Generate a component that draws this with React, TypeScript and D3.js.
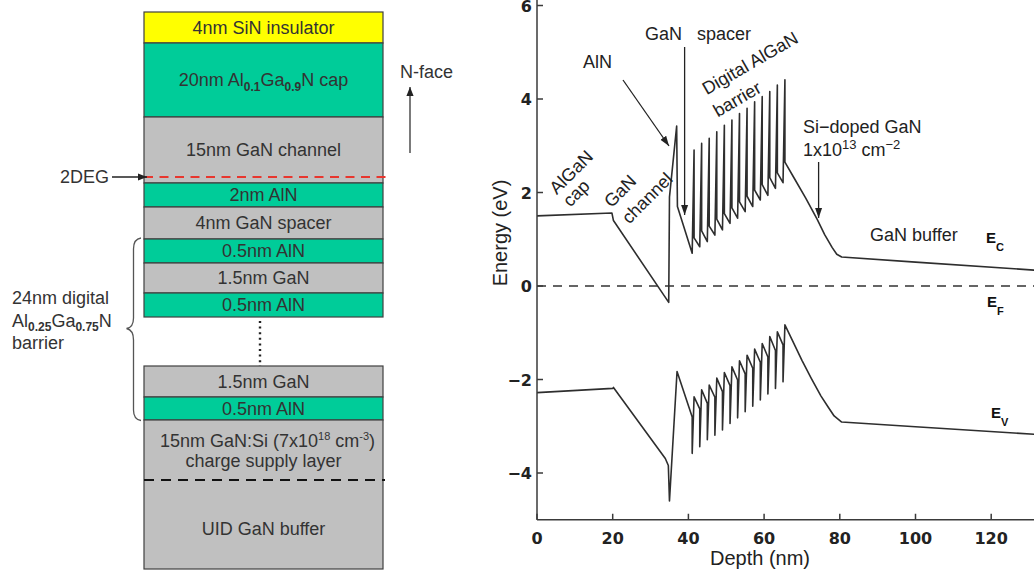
import React from "react";
import * as d3 from "d3";

// ---------- Left: layer stack ----------
const topStackLabels = [
  "4nm SiN insulator",
  "20nm Al_{0.1}Ga_{0.9}N cap",
  "15nm GaN channel",
  "2nm AlN",
  "4nm GaN spacer",
  "0.5nm AlN",
  "1.5nm GaN",
  "0.5nm AlN",
];
const topStackMaterial = ["SiN", "AlGaN", "GaN", "AlN", "GaN", "AlN", "GaN", "AlN"];
const bottomStackLabels = ["1.5nm GaN", "0.5nm AlN"];
const bottomStackMaterial = ["GaN", "AlN"];
const supplyLabelLines = ["15nm GaN:Si (7x10^{18} cm^{-3})", "charge supply layer"];
const bufferLabel = "UID GaN buffer";
const braceLabelLines = ["24nm digital", "Al_{0.25}Ga_{0.75}N", "barrier"];

// ---------- Right: band diagram (depth in nm, energy in eV) ----------
const xTicks = [0, 20, 40, 60, 80, 100, 120];
const yTicks = [-4, -2, 0, 2, 4, 6];

const ecHeadDepth = [0, 19.8, 20.2, 34.8, 35.0, 36.9, 37.1];
const ecHeadEnergy = [1.5, 1.56, 1.4, -0.35, 1.9, 3.42, 1.7];
const alnStart = [41, 43, 45, 47, 49, 51, 53, 55, 57, 59, 61, 63, 65];
const alnThickness = 0.5;
const ecTrough = [0.7, 0.84, 0.95, 1.09, 1.2, 1.34, 1.45, 1.59, 1.7, 1.84, 1.94, 2.09, 2.21];
const ecPeak = [2.91, 3.05, 3.16, 3.3, 3.44, 3.55, 3.69, 3.8, 3.94, 4.05, 4.16, 4.3, 4.41];
const ecPost = [1.03, 1.18, 1.28, 1.43, 1.55, 1.67, 1.8, 1.92, 2.05, 2.17, 2.32, 2.42];
const ecTailDepth = [65.5, 68, 71, 74, 76, 78, 79.2, 80.5, 100, 135];
const ecTailEnergy = [2.65, 2.3, 1.88, 1.43, 1.1, 0.82, 0.68, 0.62, 0.51, 0.32];

const evHeadDepth = [0, 20, 20.2, 33.9, 34.7, 35.0, 37.0];
const evHeadEnergy = [-2.28, -2.19, -2.17, -3.69, -3.84, -4.6, -1.83];
const evGanEnd = [-2.8, -2.63, -2.51, -2.38, -2.26, -2.13, -2.01, -1.88, -1.76, -1.63, -1.52, -1.38, -1.26];
const evBottom = [-3.58, -3.44, -3.29, -3.19, -3.08, -2.94, -2.82, -2.69, -2.57, -2.44, -2.31, -2.19, -2.05];
const evTop = [-2.37, -2.22, -2.12, -1.97, -1.85, -1.73, -1.6, -1.48, -1.35, -1.23, -1.08, -0.98];
const evTailDepth = [65.5, 67.5, 70, 72.5, 75, 77, 78.5, 80.5, 100, 135];
const evTailEnergy = [-0.83, -1.17, -1.59, -1.98, -2.35, -2.6, -2.78, -2.91, -3.01, -3.19];

const fermiLevel = 0;

// ---------- helpers ----------
const W = 1034;
const H = 571;
const SANS = "'Liberation Sans', Arial, Helvetica, sans-serif";
const materialColor: Record<string, string> = {
  SiN: "#ffff00",
  AlGaN: "#00cc99",
  AlN: "#00cc99",
  GaN: "#c0c0c0",
};

function rich(s: string, small: number, subBold = false) {
  const re = /([_^])\{([^}]*)\}/g;
  const toks: { t: string; k: string }[] = [];
  let last = 0;
  let m: RegExpExecArray | null;
  while ((m = re.exec(s))) {
    if (m.index > last) toks.push({ t: s.slice(last, m.index), k: "n" });
    toks.push({ t: m[2], k: m[1] === "_" ? "sub" : "sup" });
    last = m.index + m[0].length;
  }
  if (last < s.length) toks.push({ t: s.slice(last), k: "n" });
  let cur = 0;
  return toks.map((tok, i) => {
    const target = tok.k === "sub" ? 4.5 : tok.k === "sup" ? -7 : 0;
    const dy = target - cur;
    cur = target;
    return (
      <tspan
        key={i}
        dy={dy}
        fontSize={tok.k === "n" ? undefined : small}
        fontWeight={tok.k === "sub" && subBold ? "bold" : undefined}
      >
        {tok.t}
      </tspan>
    );
  });
}

export default function App() {
  // ----- left layout -----
  const boxX0 = 144;
  const boxX1 = 383;
  const boxCx = (boxX0 + boxX1) / 2;
  const topEdges = [12, 43, 117, 183, 207, 239, 263, 293, 317];
  const bottomEdges = [366, 397, 420];
  const supplyTop = 420;
  const dashY = 480;
  const boxBottom = 569;

  // ----- right scales -----
  const x = d3.scaleLinear().domain([0, 135]).range([537, 537 + 135 * 3.785]);
  const y = d3.scaleLinear().domain([-5, 6.1]).range([519.75, 0.83]);

  const ecPts: [number, number][] = [];
  ecHeadDepth.forEach((d, i) => ecPts.push([d, ecHeadEnergy[i]]));
  alnStart.forEach((s, k) => {
    ecPts.push([s, ecTrough[k]]);
    ecPts.push([s + alnThickness, ecPeak[k]]);
    if (k < ecPost.length) ecPts.push([s + alnThickness, ecPost[k]]);
  });
  ecTailDepth.forEach((d, i) => ecPts.push([d, ecTailEnergy[i]]));

  const evPts: [number, number][] = [];
  evHeadDepth.forEach((d, i) => evPts.push([d, evHeadEnergy[i]]));
  alnStart.forEach((s, k) => {
    evPts.push([s, evGanEnd[k]]);
    evPts.push([s, evBottom[k]]);
    if (k < evTop.length) evPts.push([s + alnThickness, evTop[k]]);
  });
  evTailDepth.forEach((d, i) => evPts.push([d, evTailEnergy[i]]));

  const line = d3
    .line<[number, number]>()
    .x((d) => x(d[0]))
    .y((d) => y(d[1]));

  const fmt = d3.format("d");
  const axisColor = "#3a3a3a";
  const curveColor = "#2e2e2e";
  const plotX0 = x(0);
  const plotY0 = y(-5);

  return (
    <div style={{ position: "absolute", left: 0, top: 0 }}>
      <svg width={W} height={H} viewBox={`0 0 ${W} ${H}`} style={{ display: "block", background: "#fff" }}>
        <defs>
          <marker id="ah" viewBox="0 0 10 10" refX="10" refY="5" markerWidth="9" markerHeight="9" markerUnits="userSpaceOnUse" orient="auto">
            <path d="M0,1 L10,5 L0,9 z" fill="#222" />
          </marker>
          <marker id="ah2" viewBox="0 0 10 10" refX="10" refY="5" markerWidth="10" markerHeight="10" markerUnits="userSpaceOnUse" orient="auto">
            <path d="M0,1.5 L10,5 L0,8.5 z" fill="#222" />
          </marker>
          <clipPath id="plotclip">
            <rect x={plotX0} y={0} width={W - plotX0} height={plotY0} />
          </clipPath>
        </defs>

        {/* ===== Left stack ===== */}
        <g fontFamily={SANS} fontSize={18} fill="#333">
          {topStackLabels.map((lab, i) => {
            const y0 = topEdges[i];
            const y1 = topEdges[i + 1];
            return (
              <g key={"t" + i}>
                <rect x={boxX0} y={y0} width={boxX1 - boxX0} height={y1 - y0} fill={materialColor[topStackMaterial[i]]} stroke="#404040" strokeWidth={1.2} />
                <text x={boxCx} y={(y0 + y1) / 2 + 6.3} textAnchor="middle">
                  {rich(lab, 12, true)}
                </text>
              </g>
            );
          })}
          {bottomStackLabels.map((lab, i) => {
            const y0 = bottomEdges[i];
            const y1 = bottomEdges[i + 1];
            return (
              <g key={"b" + i}>
                <rect x={boxX0} y={y0} width={boxX1 - boxX0} height={y1 - y0} fill={materialColor[bottomStackMaterial[i]]} stroke="#404040" strokeWidth={1.2} />
                <text x={boxCx} y={(y0 + y1) / 2 + 6.3} textAnchor="middle">
                  {rich(lab, 12, true)}
                </text>
              </g>
            );
          })}
          <rect x={boxX0} y={supplyTop} width={boxX1 - boxX0} height={boxBottom - supplyTop} fill={materialColor.GaN} stroke="#404040" strokeWidth={1.2} />
          <line x1={boxX0} x2={boxX1 + 2} y1={dashY} y2={dashY} stroke="#111" strokeWidth={2.2} strokeDasharray="10,7" />
          <text x={boxCx + 4} y={446.5} textAnchor="middle">
            {rich(supplyLabelLines[0], 11)}
          </text>
          <text x={boxCx} y={466.5} textAnchor="middle">
            {supplyLabelLines[1]}
          </text>
          <text x={boxCx} y={535} textAnchor="middle">
            {bufferLabel}
          </text>

          {/* dotted continuation */}
          <line x1={260} x2={260} y1={321} y2={366} stroke="#222" strokeWidth={2.4} strokeDasharray="2,3.6" />

          {/* 2DEG */}
          <line x1={boxX0} x2={386} y1={177} y2={177} stroke="#e8362e" strokeWidth={2} strokeDasharray="9,6.5" />
          <text x={60} y={183}>2DEG</text>
          <line x1={112} x2={147} y1={177} y2={177} stroke="#222" strokeWidth={1.3} markerEnd="url(#ah)" />

          {/* N-face */}
          <text x={400} y={78}>N-face</text>
          <line x1={410} x2={410} y1={153} y2={87} stroke="#222" strokeWidth={1.2} markerEnd="url(#ah)" />

          {/* brace */}
          <path d="M141,238 Q133.5,239 133.5,249 L133.5,318 Q133.5,327.5 126.5,328.5 Q133.5,330 133.5,340 L133.5,410 Q133.5,419.5 141,420.5" fill="none" stroke="#555" strokeWidth={1.3} />
          <text x={12} y={304}>{braceLabelLines[0]}</text>
          <text x={12} y={326.5}>{rich(braceLabelLines[1], 12, true)}</text>
          <text x={12} y={348.5}>{braceLabelLines[2]}</text>
        </g>

        {/* ===== Right band diagram ===== */}
        <g clipPath="url(#plotclip)">
          <line x1={x(0)} x2={x(135)} y1={y(fermiLevel)} y2={y(fermiLevel)} stroke="#333" strokeWidth={1.3} strokeDasharray="9,7" />
          <path d={line(ecPts) || ""} fill="none" stroke={curveColor} strokeWidth={1.6} strokeLinejoin="round" />
          <path d={line(evPts) || ""} fill="none" stroke={curveColor} strokeWidth={1.6} strokeLinejoin="round" />
        </g>

        {/* axes */}
        <g stroke={axisColor} strokeWidth={1.5}>
          <line x1={x(0)} x2={x(0)} y1={0} y2={y(-5)} />
          <line x1={x(0)} x2={W} y1={y(-5)} y2={y(-5)} />
          {xTicks.map((t) => (
            <line key={"xt" + t} x1={x(t)} x2={x(t)} y1={y(-5)} y2={y(-5) - 6} />
          ))}
          {yTicks.map((t) => (
            <line key={"yt" + t} x1={x(0)} x2={x(0) + 6} y1={y(t)} y2={y(t)} />
          ))}
        </g>
        <g fontFamily="'DejaVu Sans', Verdana, sans-serif" fontWeight="bold" fontSize={16} fill="#222">
          {xTicks.map((t) => (
            <text key={"xl" + t} x={x(t)} y={543.5} textAnchor="middle">
              {fmt(t)}
            </text>
          ))}
          {yTicks.map((t) => (
            <text key={"yl" + t} x={x(0) - 5} y={Math.max(y(t) + 6, 12)} textAnchor="end">
              {fmt(t)}
            </text>
          ))}
        </g>
        <g fontFamily={SANS} fontSize={20} fill="#222">
          <text x={760} y={565} textAnchor="middle">Depth (nm)</text>
          <text transform={`translate(507,233) rotate(-90)`} textAnchor="middle">Energy (eV)</text>
        </g>

        {/* annotations */}
        <g fontFamily={SANS} fontSize={18} fill="#222">
          <text x={645} y={39.5}>GaN</text>
          <text x={697} y={39.5}>spacer</text>
          <line x1={x(39)} x2={x(39)} y1={47} y2={215} stroke="#222" strokeWidth={1.3} markerEnd="url(#ah2)" />

          <text x={583} y={68}>AlN</text>
          <line x1={623} y1={80} x2={669} y2={146} stroke="#222" strokeWidth={1.3} markerEnd="url(#ah2)" />

          <text transform="translate(571,172) rotate(-45)" textAnchor="middle" dy="0.35em">AlGaN</text>
          <text transform="translate(576,193) rotate(-45)" textAnchor="middle" dy="0.35em">cap</text>
          <text transform="translate(620,191) rotate(-45)" textAnchor="middle" dy="0.35em">GaN</text>
          <text transform="translate(647,198) rotate(-45)" textAnchor="middle" dy="0.35em">channel</text>

          <text transform="translate(750,63) rotate(-30)" textAnchor="middle" dy="0.35em">Digital AlGaN</text>
          <text transform="translate(737,99) rotate(-30)" textAnchor="middle" dy="0.35em">barrier</text>

          <text x={803} y={132.5}>Si−doped GaN</text>
          <text x={803} y={155.5}>
            {rich("1x10^{13} cm^{−2}", 13)}
          </text>
          <line x1={x(74.4)} x2={x(74.4)} y1={162} y2={218} stroke="#222" strokeWidth={1.3} markerEnd="url(#ah2)" />

          <text x={870} y={241}>GaN buffer</text>
        </g>
        <g fontFamily={SANS} fontWeight="bold" fontSize={15} fill="#111">
          <text x={986} y={243}>E<tspan fontSize={11} dy={8}>C</tspan></text>
          <text x={987} y={307}>E<tspan fontSize={11} dy={8}>F</tspan></text>
          <text x={991} y={418}>E<tspan fontSize={11} dy={8}>V</tspan></text>
        </g>
      </svg>
    </div>
  );
}
